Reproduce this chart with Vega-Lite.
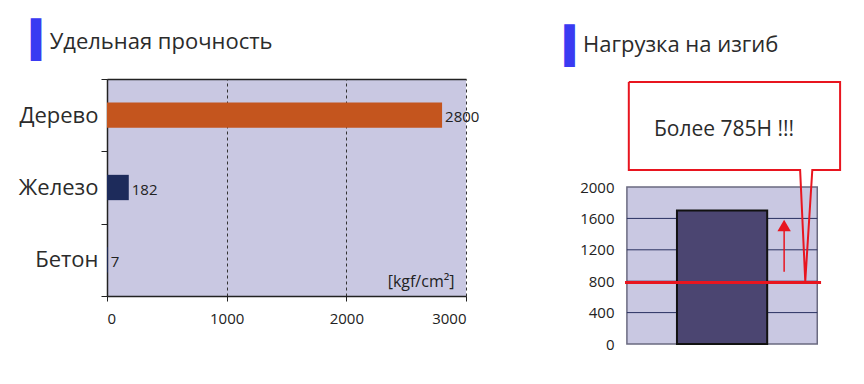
{
  "$schema": "https://vega.github.io/schema/vega-lite/v6.json",
  "background": "white",
  "padding": {"left": 18, "top": 23, "right": 5, "bottom": 5},
  "config": {"font": "Open Sans", "view": {"stroke": null}},
  "spacing": 84,
  "datasets": {
    "strength": [
      {"material": "Дерево", "value": 2800},
      {"material": "Железо", "value": 182},
      {"material": "Бетон", "value": 7}
    ],
    "bg": [{"x": 0, "x2": 10, "y": 0, "y2": 2000}],
    "grid": [{"x": 0, "x2": 10, "y": 400}, {"x": 0, "x2": 10, "y": 800}, {"x": 0, "x2": 10, "y": 1200}, {"x": 0, "x2": 10, "y": 1600}],
    "load": [{"x": 2.63, "x2": 7.37, "y": 0, "y2": 1700}],
    "threshold": [{"x": -0.1, "x2": 10.2, "y": 785}],
    "shaft": [{"x": 8.26, "y": 920, "y2": 1460}],
    "head": [{"x": 8.26, "y": 1510}],
    "callout": [
      {"i": 0, "x": 0.1, "y": 3338},
      {"i": 1, "x": 11.2, "y": 3338},
      {"i": 2, "x": 11.2, "y": 2217},
      {"i": 3, "x": 9.74, "y": 2217},
      {"i": 4, "x": 9.37, "y": 800},
      {"i": 5, "x": 9.1, "y": 2217},
      {"i": 6, "x": 0.1, "y": 2217},
      {"i": 7, "x": 0.1, "y": 3338}
    ],
    "note": [{"x": 5.1, "y": 2726, "label": "Более 785Н !!!"}]
  },
  "hconcat": [
    {
      "width": 359,
      "height": 217,
      "title": {
        "text": "▍",
        "font": "DejaVu Sans",
        "fontSize": 36,
        "color": "#3a3af2",
        "anchor": "start",
        "frame": "bounds",
        "dx": 13,
        "offset": 8,
        "subtitle": "\u200b\u2002\u2004Удельная прочность",
        "subtitleFont": "Open Sans",
        "subtitleFontSize": 22,
        "subtitleColor": "#2b2b2b",
        "subtitlePadding": -28
      },
      "view": {"fill": "#c9c8e2", "stroke": null},
      "data": {"name": "strength"},
      "resolve": {"axis": {"x": "independent"}},
      "encoding": {
        "y": {
          "field": "material",
          "type": "nominal",
          "sort": null,
          "scale": {"paddingInner": 0, "paddingOuter": 0},
          "axis": {
            "title": null,
            "domain": true,
            "domainColor": "#222",
            "domainWidth": 1.5,
            "ticks": true,
            "tickBand": "extent",
            "tickColor": "#222",
            "tickSize": 6,
            "labelFontSize": 22,
            "labelColor": "#2b2b2b",
            "labelPadding": 3
          }
        }
      },
      "layer": [
        {
          "mark": {"type": "bar", "height": {"band": 0.35}},
          "encoding": {
            "x": {
              "field": "value",
              "type": "quantitative",
              "scale": {"domain": [0, 3000], "nice": false},
              "axis": {
                "values": [0, 1000, 2000, 3000],
                "format": "d",
                "grid": true,
                "gridDash": [3, 3],
                "gridColor": "#333",
                "gridWidth": 1,
                "domain": true,
                "domainColor": "#222",
                "domainWidth": 1.5,
                "ticks": true,
                "tickColor": "#222",
                "tickSize": 5,
                "labelFontSize": 15,
                "labelColor": "#222",
                "labelPadding": 10,
                "title": "[kgf/cm²]",
                "titleFontSize": 16,
                "titleFontWeight": "normal",
                "titleColor": "#222",
                "titleAnchor": "end",
                "titleAlign": "right",
                "titleBaseline": "bottom",
                "titleX": 347,
                "titleY": -7
              }
            },
            "color": {
              "field": "material",
              "type": "nominal",
              "scale": {"domain": ["Дерево", "Железо", "Бетон"], "range": ["#c4551e", "#1d2b5b", "#1d2b5b"]},
              "legend": null
            }
          }
        },
        {
          "mark": {"type": "text", "align": "left", "baseline": "middle", "dx": 3, "dy": 2, "fontSize": 15, "color": "#222"},
          "encoding": {
            "x": {"field": "value", "type": "quantitative", "axis": {"orient": "top", "labels": false, "ticks": false, "grid": false, "domain": true, "domainColor": "#222", "domainWidth": 1.5, "title": null}},
            "text": {"field": "value", "type": "quantitative", "format": "d"}
          }
        }
      ]
    },
    {
      "width": 217,
      "height": 265,
      "title": {
        "text": "▍",
        "font": "DejaVu Sans",
        "fontSize": 36,
        "color": "#3a3af2",
        "anchor": "start",
        "frame": "bounds",
        "dx": -15,
        "offset": 12,
        "subtitle": "\u200b\u2002\u2004Нагрузка на изгиб",
        "subtitleFont": "Open Sans",
        "subtitleFontSize": 22,
        "subtitleColor": "#2b2b2b",
        "subtitlePadding": -31
      },
      "view": {"stroke": null},
      "encoding": {
        "x": {"field": "x", "type": "quantitative", "scale": {"domain": [-0.1, 11.3], "nice": false, "zero": false}, "axis": null},
        "y": {
          "field": "y",
          "type": "quantitative",
          "scale": {"domain": [0, 3376], "nice": false},
          "axis": {
            "title": null,
            "values": [0, 400, 800, 1200, 1600, 2000],
            "format": "d",
            "domain": false,
            "ticks": false,
            "grid": false,
            "labelFontSize": 15,
            "labelColor": "#222",
            "labelPadding": 11
          }
        }
      },
      "layer": [
        {
          "data": {"name": "bg"},
          "mark": {"type": "rect", "fill": "#c9c8e2", "stroke": "#6a6a80", "strokeWidth": 1.5},
          "encoding": {"x2": {"field": "x2"}, "y2": {"field": "y2"}}
        },
        {
          "data": {"name": "grid"},
          "mark": {"type": "rule", "color": "#283060", "strokeWidth": 1},
          "encoding": {"x2": {"field": "x2"}}
        },
        {
          "data": {"name": "load"},
          "mark": {"type": "rect", "fill": "#4b4571", "stroke": "#111", "strokeWidth": 2},
          "encoding": {"x2": {"field": "x2"}, "y2": {"field": "y2"}}
        },
        {
          "data": {"name": "threshold"},
          "mark": {"type": "rule", "color": "#e8151f", "strokeWidth": 3},
          "encoding": {"x2": {"field": "x2"}}
        },
        {
          "data": {"name": "shaft"},
          "mark": {"type": "rule", "color": "#e8151f", "strokeWidth": 1.5},
          "encoding": {"y2": {"field": "y2"}}
        },
        {
          "data": {"name": "head"},
          "mark": {"type": "point", "shape": "triangle-up", "filled": true, "color": "#e8151f", "size": 180, "opacity": 1},
          "encoding": {}
        },
        {
          "data": {"name": "callout"},
          "mark": {"type": "line", "color": "#e8151f", "strokeWidth": 2, "strokeJoin": "miter", "clip": false},
          "encoding": {"order": {"field": "i", "type": "quantitative"}}
        },
        {
          "data": {"name": "note"},
          "mark": {"type": "text", "fontSize": 21, "color": "#2b2b2b", "align": "center", "baseline": "middle"},
          "encoding": {"text": {"field": "label", "type": "nominal"}}
        }
      ]
    }
  ]
}
